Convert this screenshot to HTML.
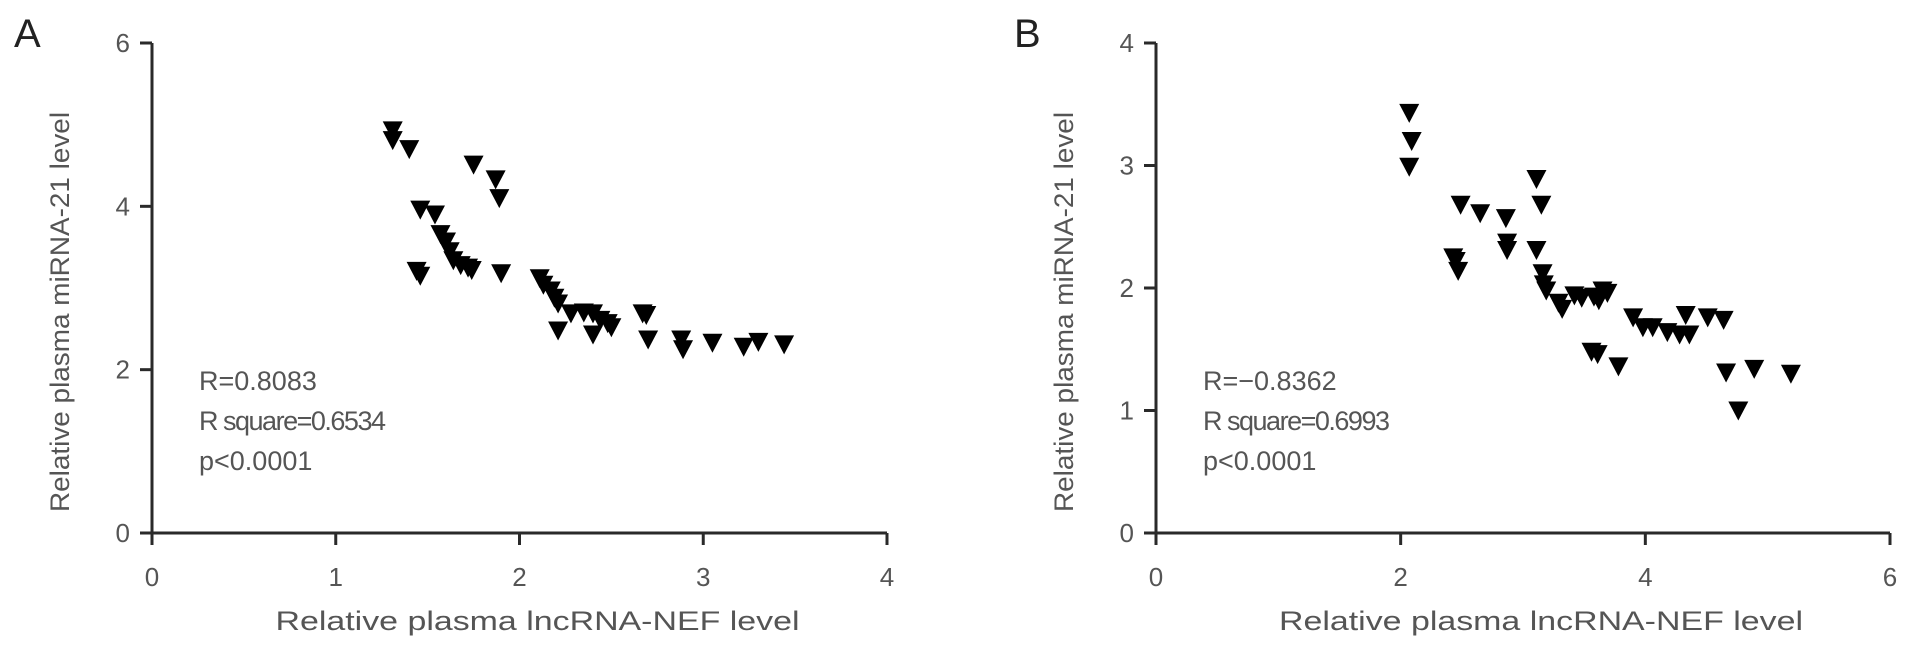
<!DOCTYPE html>
<html><head><meta charset="utf-8"><style>
html,body{margin:0;padding:0;background:#fff;}
svg{display:block;font-family:"Liberation Sans",Arial,sans-serif;}
</style></head><body>
<svg id="chart" width="1913" height="655" viewBox="0 0 1913 655"></svg>
<script>
const aX=[1.31,1.31,1.40,1.75,1.87,1.89,1.46,1.54,1.57,1.60,1.62,1.64,1.68,1.72,1.74,1.44,1.46,1.90,2.11,2.13,2.17,2.19,2.21,2.21,2.28,2.35,2.40,2.40,2.44,2.48,2.50,2.67,2.69,2.70,2.88,2.89,3.05,3.22,3.30,3.44];
const aY=[4.93,4.81,4.70,4.51,4.33,4.10,3.96,3.90,3.66,3.57,3.45,3.34,3.28,3.25,3.22,3.21,3.15,3.18,3.12,3.04,2.97,2.88,2.81,2.48,2.69,2.70,2.69,2.43,2.61,2.57,2.52,2.69,2.67,2.37,2.37,2.25,2.33,2.28,2.34,2.31];
const bX=[2.07,2.09,2.07,2.43,2.45,2.47,2.49,2.65,2.86,2.87,2.87,3.11,3.15,3.11,3.16,3.17,3.19,3.29,3.32,3.42,3.48,3.58,3.62,3.65,3.69,3.56,3.61,3.78,3.90,3.98,4.06,4.18,4.28,4.36,4.33,4.51,4.64,4.66,4.76,4.89,5.19];
const bY=[3.43,3.20,2.99,2.25,2.22,2.14,2.68,2.61,2.57,2.37,2.31,2.89,2.68,2.31,2.12,2.03,1.98,1.88,1.83,1.94,1.92,1.93,1.90,1.98,1.96,1.48,1.46,1.36,1.76,1.68,1.68,1.64,1.62,1.62,1.78,1.76,1.74,1.31,1.00,1.34,1.30];
const aXTicks=[0,1,2,3,4];
const aYTicks=[0,2,4,6];
const bXTicks=[0,2,4,6];
const bYTicks=[0,1,2,3,4];
const aStats=["R=0.8083","R square=0.6534","p<0.0001"];
const bStats=["R=\u22120.8362","R square=0.6993","p<0.0001"];

const NS="http://www.w3.org/2000/svg";
const svg=document.getElementById('chart');
function el(tag,attrs,parent){const e=document.createElementNS(NS,tag);for(const k in attrs)e.setAttribute(k,attrs[k]);(parent||svg).appendChild(e);return e;}

function panel(id,letter,x0,x1,y0,y1,xmax,ymax,xs,ys,xt,yt,stats,letterX){
  const g=el('g',{});
  
  
  const sx=v=>x0+(x1-x0)*v/xmax;
  const sy=v=>y0-(y0-y1)*v/ymax;
  const L=el('text',{x:letterX,y:47,'font-size':40,fill:'#222'},g);L.textContent=letter;
  
  
  const ax=el('line',{x1:x0-12,y1:y0,x2:x1,y2:y0,stroke:'#2a2a2a','stroke-width':3},g);
  
  
  const ay=el('line',{x1:x0,y1:y0+12,x2:x0,y2:y1,stroke:'#2a2a2a','stroke-width':3},g);
  
  
  xt.forEach(v=>{
    const x=sx(v);
    const t=el('line',{x1:x,y1:y0,x2:x,y2:y0+12,stroke:'#2a2a2a','stroke-width':3},g);
    
    
    const l=el('text',{x:x,y:y0+53,'font-size':26,fill:'#555','text-anchor':'middle'},g);l.textContent=v;
    
    
  });
  yt.forEach(v=>{
    const y=sy(v);
    const t=el('line',{x1:x0-12,y1:y,x2:x0,y2:y,stroke:'#2a2a2a','stroke-width':3},g);
    
    
    const l=el('text',{x:x0-22,y:y+9,'font-size':26,fill:'#555','text-anchor':'end'},g);l.textContent=v;
    
    
  });
  const xtitle=el('text',{x:(x0+x1)/2+18,y:630,'font-size':27,fill:'#555','text-anchor':'middle',textLength:524,lengthAdjust:'spacingAndGlyphs'},g);
  xtitle.textContent='Relative plasma lncRNA-NEF level';
  
  
  const ytitle=el('text',{x:0,y:0,'font-size':27,fill:'#555','text-anchor':'middle',textLength:400,lengthAdjust:'spacingAndGlyphs',transform:`translate(${x0-83},${312}) rotate(-90)`},g);
  ytitle.textContent='Relative plasma miRNA-21 level';
  
  
  stats.forEach((s,i)=>{
    const t=el('text',{x:x0+47,y:390+i*40,'font-size':27,fill:'#555','textLength':s.length>10?187:0},g);t.textContent=s;
    if(s.length<=10)t.removeAttribute('textLength');
    
    
  });
  xs.forEach((v,i)=>{
    const cx=sx(v), cyp=sy(ys[i]);
    const p=el('polygon',{points:`${cx-10},${cyp-9} ${cx+10},${cyp-9} ${cx},${cyp+10}`,fill:'#000'},g);
    
    
  });
}
panel('a','A',152,887,533,43,4,6,aX,aY,aXTicks,aYTicks,aStats,14);
panel('b','B',1156,1890,533,43,6,4,bX,bY,bXTicks,bYTicks,bStats,1014);
</script>
</body></html>
